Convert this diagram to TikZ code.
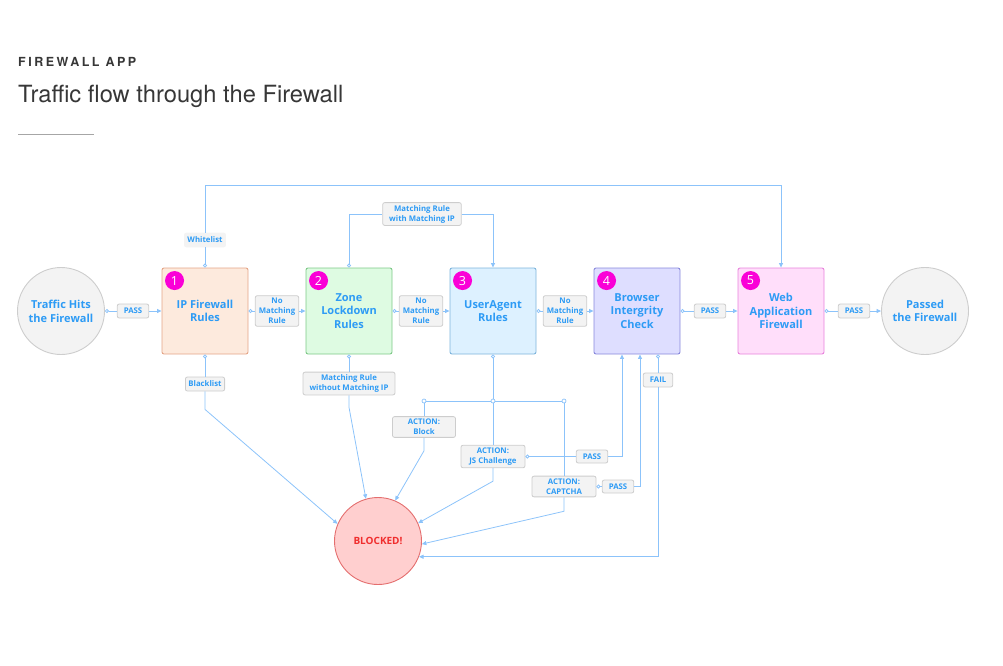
\documentclass[tikz,border=0pt]{standalone}
\usepackage{fontspec}
\setmainfont{Open Sans}
\newfontfamily\headfont{TeX Gyre Heros}
\newfontfamily\capsfont[LetterSpace=20]{TeX Gyre Heros}
\usetikzlibrary{arrows.meta}

\definecolor{headgray}{RGB}{55,55,55}
\definecolor{txtblue}{RGB}{45,155,245}
\definecolor{lineblue}{RGB}{140,195,250}
\definecolor{lblfill}{RGB}{243,243,243}
\definecolor{lbledge}{RGB}{205,205,205}
\definecolor{fill1}{RGB}{253,234,221} \definecolor{edge1}{RGB}{228,165,135}
\definecolor{fill2}{RGB}{222,251,226} \definecolor{edge2}{RGB}{125,200,135}
\definecolor{fill3}{RGB}{221,241,255} \definecolor{edge3}{RGB}{125,180,220}
\definecolor{fill4}{RGB}{222,222,255} \definecolor{edge4}{RGB}{135,135,220}
\definecolor{fill5}{RGB}{255,222,250} \definecolor{edge5}{RGB}{232,130,220}
\definecolor{badgepink}{RGB}{250,0,215}
\definecolor{blockfill}{RGB}{255,207,207}
\definecolor{blockedge}{RGB}{228,110,110}
\definecolor{blockred}{RGB}{240,45,45}

\tikzset{
  rulebox/.style={draw, rounded corners=2pt, minimum size=86pt, inner sep=0pt, align=center,
    text=txtblue, font=\bfseries\fontsize{11}{13.7}\selectfont, line width=0.9pt},
  endpoint/.style={circle, draw=lbledge, fill=lblfill, minimum size=87pt, inner sep=0pt,
    align=center, text=txtblue, font=\bfseries\fontsize{11}{13.7}\selectfont, line width=0.9pt},
  badge/.style={circle, fill=badgepink, minimum size=19pt, inner sep=0pt, text=white,
    font=\fontsize{12.5}{13}\selectfont},
  lbl/.style={draw=lbledge, fill=lblfill, rounded corners=2pt, text=txtblue, align=center,
    font=\bfseries\fontsize{7.8}{10}\selectfont, inner xsep=6.5pt, inner ysep=2.5pt,
    minimum height=14pt, line width=0.8pt},
  nomatch/.style={lbl, inner xsep=3.5pt},
  dot/.style={circle, draw=lineblue, fill=white, minimum size=4pt, inner sep=0pt, line width=0.7pt},
  line/.style={draw=lineblue, line width=0.8pt},
  fromdot/.style={line, {Circle[open,length=4pt,width=4pt]}-},
  into/.style={line, -{Triangle[length=4.5pt,width=4pt]}},
}

\begin{document}
\begin{tikzpicture}[x=1pt, y=-1pt]
\useasboundingbox (0,0) rectangle (1003,665);

% --- Heading ---
\node[anchor=base west, inner sep=0pt, text=headgray, font=\capsfont\bfseries\fontsize{12.5}{14}\selectfont] (app) at (18,66.7) {FIREWALL APP};
\node[anchor=base west, inner sep=0pt, text=headgray, font=\headfont\fontsize{23.7}{26}\selectfont] (title) at (18,102) {Traffic flow through the Firewall};
\draw[gray!70, line width=0.9pt] (18,134) -- (94,134);

% --- Main row: end points and the five rule boxes ---
\node[endpoint] (hits) at (61,311) {Traffic Hits\\the Firewall};
\foreach \i/\nm/\txt in {1/ip/{IP Firewall\\Rules}, 2/zone/{Zone\\Lockdown\\Rules},
    3/ua/{UserAgent\\Rules}, 4/bic/{Browser\\Intergrity\\Check}, 5/waf/{Web\\Application\\Firewall}} {
    \node[rulebox, fill=fill\i, draw=edge\i] (\nm) at (61+144*\i, 311) {\txt};
    \node[badge] at ([shift={(13pt,-13pt)}]\nm.north west) {\i};
}
\node[endpoint] (passed) at (925,311) {Passed\\the Firewall};

% Labels between the boxes
\node[lbl] (l1) at (133,311) {PASS};
\node[nomatch] (l2) at (277,311) {No\\Matching\\Rule};
\node[nomatch] (l3) at (421,311) {No\\Matching\\Rule};
\node[nomatch] (l4) at (565,311) {No\\Matching\\Rule};
\node[lbl] (l5) at (710,311) {PASS};
\node[lbl] (l6) at (854,311) {PASS};
\foreach \a/\m/\b in {hits/l1/ip, ip/l2/zone, zone/l3/ua, ua/l4/bic, bic/l5/waf, waf/l6/passed} {
    \draw[fromdot] (\a) -- (\m);
    \draw[into] (\m) -- (\b);
}

% --- Above the row ---
\coordinate (top) at (0,185);
\node[lbl, draw=lblfill, inner xsep=3pt] (white) at (205,240) {Whitelist};
\draw[fromdot] (ip.north) -- (white);
\draw[into] (white) -- (white |- top) -| (waf.north);
\node[lbl] (withip) at (422,214) {Matching Rule\\with Matching IP};
\draw[fromdot] (zone.north) |- (withip);
\draw[into] (withip) -| (ua.north);

% --- Below the row ---
\node[circle, draw=blockedge, fill=blockfill, minimum size=87pt, line width=0.9pt, text=blockred,
    font=\bfseries\fontsize{10}{12}\selectfont] (blocked) at (378,541) {BLOCKED!};

\node[lbl, inner xsep=3pt] (black) at (205,384) {Blacklist};
\draw[fromdot] (ip.south) -- (black);
\draw[into] (black) -- ([yshift=-18pt]black.south) -- (blocked.157);
\node[lbl] (noip) at (349,383.5) {Matching Rule\\without Matching IP};
\draw[fromdot] (zone.south) -- (noip);
\draw[into] (noip) -- ([yshift=-12pt]noip.south) -- (blocked.106);

% UserAgent actions
\node[dot] (jb) at (424,401) {};
\node[dot] (jj) at (493,401) {};
\node[dot] (jc) at (564,401) {};
\draw[fromdot] (ua.south) -- (jj);
\draw[line] (jb) -- (jj) -- (jc);
\node[lbl, minimum width=63pt] (block) at (424,427) {ACTION:\\Block};
\node[lbl, minimum width=64pt] (js) at (493,456.5) {ACTION:\\JS Challenge};
\node[lbl, minimum width=64pt] (captcha) at (564,486.5) {ACTION:\\CAPTCHA};
\draw[line] (jb) -- (block);
\draw[line] (jj) -- (js);
\draw[line] (jc) -- (captcha);
\draw[into] (block) -- ([yshift=-13pt]block.south) -- (blocked.67);
\draw[into] (js) -- ([yshift=-13pt]js.south) -- (blocked.24);
\draw[into] (captcha) -- ([yshift=-14pt]captcha.south) -- (blocked.-4);

% Challenge passed or failed
\node[lbl, minimum height=13pt] (pass3) at (592,456.5) {PASS};
\node[lbl, minimum height=13pt] (pass4) at (618,486.5) {PASS};
\draw[fromdot] (js.east) -- (pass3);
\draw[into] (pass3) -| ([xshift=-15pt]bic.south);
\draw[fromdot] (captcha.east) -- (pass4);
\draw[into] (pass4) -| ([xshift=3pt]bic.south);
\node[lbl] (fail) at (658,380) {FAIL};
\draw[fromdot] ([xshift=21pt]bic.south) -- (fail);
\draw[into] (fail) |- (blocked.-21);

\end{tikzpicture}
\end{document}
